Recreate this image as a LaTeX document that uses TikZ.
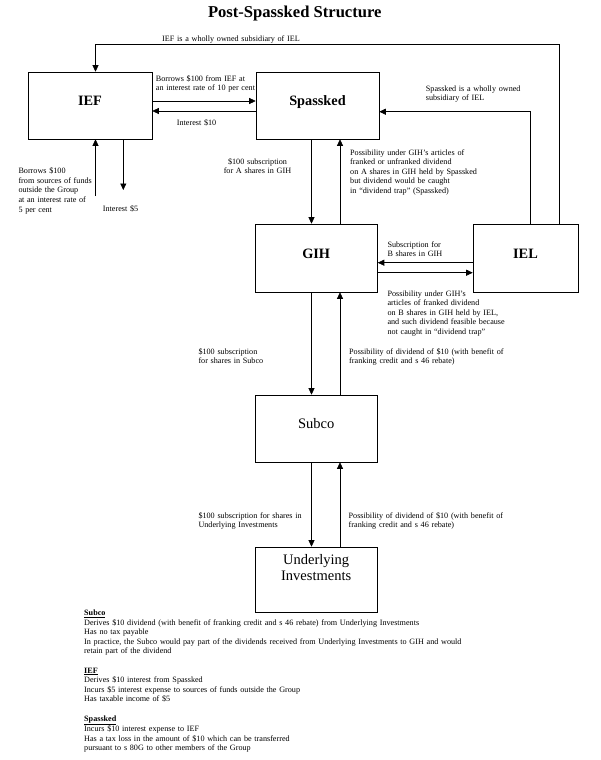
\documentclass[tikz,border=0pt]{standalone}
\usepackage{fontspec}
\setmainfont{Liberation Serif}
\usetikzlibrary{arrows.meta}
\begin{document}
\begin{tikzpicture}[x=1pt,y=-1pt,
  box/.style={draw, line width=0.6pt, inner sep=0pt, text height=0pt, text depth=0pt},
  bl/.style={font=\bfseries\fontsize{14.3}{16}\selectfont},
  rl/.style={font=\fontsize{14.5}{15.5}\selectfont},
  arr/.style={line width=0.6pt, -{Triangle[length=6.5pt,width=6pt]}},
  lbl/.style={font=\fontsize{8.15}{9.6}\selectfont, inner sep=0pt, anchor=base west, align=left, text width=#1},
  lbl/.default=200pt
]
\useasboundingbox (0,0) rectangle (600,760);

% title
\node[font=\bfseries\fontsize{16.6}{20}\selectfont, anchor=base, inner sep=0pt] (title) at (294.8,17.3) {Post-Spassked Structure};

% boxes
\node[box, bl, minimum width=124pt, minimum height=67pt] (IEF) at (90,105.5) {IEF};
\node[box, bl, minimum width=123pt, minimum height=67pt] (Spassked) at (317.5,105.5) {Spassked};
\node[box, bl, minimum width=122.5pt, minimum height=68pt] (GIH) at (316.2,258) {GIH};
\node[box, bl, minimum width=105pt, minimum height=68pt] (IEL) at (525.5,258) {IEL};
\node[box, rl, minimum width=122.3pt, minimum height=67pt] (Subco) at (316.2,428.5) {Subco};
\node[box, rl, minimum width=122.3pt, minimum height=65pt, text width=110pt, align=center, text depth=30pt] (UI) at (316.2,579.5) {Underlying\\Investments};

% helper coordinates
\coordinate (cTop) at (559,44);
\coordinate (cSp) at (530,111.7);
\coordinate (xL) at (95.5,0);
\coordinate (yB) at (0,101);
\coordinate (yI) at (0,111);
\coordinate (srcUp) at (95.5,196);
\coordinate (srcDn) at (123.3,190);
\coordinate (xA) at (311.5,0);
\coordinate (xB) at (340,0);
\coordinate (yS1) at (0,262.7);
\coordinate (yS2) at (0,272.7);

% connectors
\draw[arr] (IEL.north -| cTop) -- (cTop) -| (IEF.north -| xL);
\draw[arr] (IEL.north -| cSp) -- (cSp) -- (Spassked.east |- cSp);
\draw[arr] (IEF.east |- yB) -- (Spassked.west |- yB);
\draw[arr] (Spassked.west |- yI) -- (IEF.east |- yI);
\draw[arr] (srcUp) -- (IEF.south -| srcUp);
\draw[arr] (IEF.south -| srcDn) -- (srcDn);
\draw[arr] (Spassked.south -| xA) -- (GIH.north -| xA);
\draw[arr] (GIH.north -| xB) -- (Spassked.south -| xB);
\draw[arr] (GIH.south -| xA) -- (Subco.north -| xA);
\draw[arr] (Subco.north -| xB) -- (GIH.south -| xB);
\draw[arr] (Subco.south -| xA) -- (UI.north -| xA);
\draw[arr] (UI.north -| xB) -- (Subco.south -| xB);
\draw[arr] (IEL.west |- yS1) -- (GIH.east |- yS1);
\draw[arr] (GIH.east |- yS2) -- (IEL.west |- yS2);

% labels
\node[lbl] (tIEL) at (162,42) {IEF is a wholly owned subsidiary of IEL};
\node[lbl] (tBor) at (155.7,81.3) {Borrows \$100 from IEF at\\an interest rate of 10 per cent};
\node[lbl] (tInt) at (176.7,125) {Interest \$10};
\node[lbl] (tSpW) at (425.7,91.3) {Spassked is a wholly owned\\subsidiary of IEL};
\node[lbl] (tSrc) at (18.3,173.7) {Borrows \$100\\from sources of funds\\outside the Group\\at an interest rate of\\5 per cent};
\node[lbl] (tI5) at (102.7,211.7) {Interest \$5};
\node[lbl=90pt, anchor=base, align=center] (tA) at (257.5,164.3) {\$100 subscription\\for A shares in GIH};
\node[lbl] (tPosA) at (350,155) {Possibility under GIH’s articles of\\franked or unfranked dividend\\on A shares in GIH held by Spassked\\but dividend would be caught\\in “dividend trap” (Spassked)};
\node[lbl] (tSubB) at (387.3,247) {Subscription for\\B shares in GIH};
\node[lbl] (tPosB) at (387.3,296) {Possibility under GIH’s\\articles of franked dividend\\on B shares in GIH held by IEL,\\and such dividend feasible because\\not caught in “dividend trap”};
\node[lbl] (tSubC) at (198.3,354) {\$100 subscription\\for shares in Subco};
\node[lbl] (tPosC) at (349,354) {Possibility of dividend of \$10 (with benefit of\\franking credit and s 46 rebate)};
\node[lbl] (tSubU) at (198.3,518.3) {\$100 subscription for shares in\\Underlying Investments};
\node[lbl] (tPosU) at (348.5,518.3) {Possibility of dividend of \$10 (with benefit of\\franking credit and s 46 rebate)};
\node[lbl=500pt] (notes) at (84,615.5) {\textbf{\underline{Subco}}\\
Derives \$10 dividend (with benefit of franking credit and s 46 rebate) from Underlying Investments\\
Has no tax payable\\
In practice, the Subco would pay part of the dividends received from Underlying Investments to GIH and would\\
retain part of the dividend\\[9.6pt]
\textbf{\underline{IEF}}\\
Derives \$10 interest from Spassked\\
Incurs \$5 interest expense to sources of funds outside the Group\\
Has taxable income of \$5\\[9.6pt]
\textbf{\underline{Spassked}}\\
Incurs \$10 interest expense to IEF\\
Has a tax loss in the amount of \$10 which can be transferred\\
pursuant to s 80G to other members of the Group};
\end{tikzpicture}
\end{document}
